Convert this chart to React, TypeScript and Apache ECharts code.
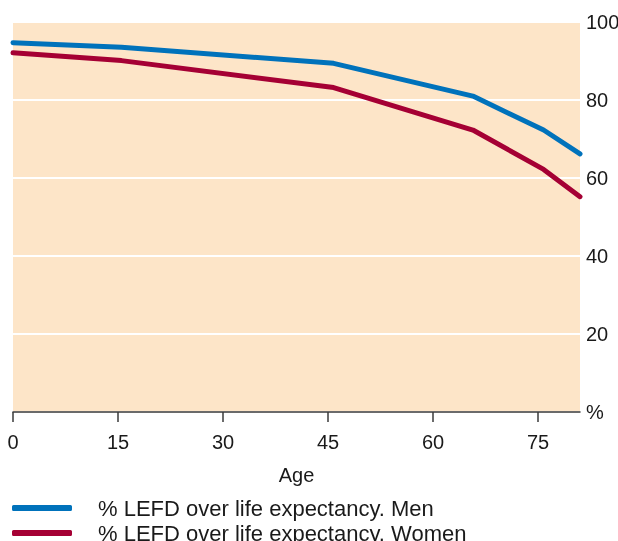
import React, { useEffect, useRef } from "react";
import * as echarts from "echarts";

const ages = [0, 15.5, 45.8, 65.7, 75.8, 81];
const menValues = [94.7, 93.5, 89.4, 81.0, 72.3, 66.2];
const womenValues = [92.1, 90.1, 83.2, 72.3, 62.2, 55.2];
const xTicks = [0, 15, 30, 45, 60, 75];
const yTicks = [0, 20, 40, 60, 80, 100];
const seriesNames = [
  "% LEFD over life expectancy. Men",
  "% LEFD over life expectancy. Women",
];

const FONT = "'Liberation Sans', Arial, sans-serif";
const TEXT = "#1a1a1a";

const legendBase = {
  orient: "horizontal",
  left: 12,
  padding: 0,
  itemWidth: 60,
  itemHeight: 6,
  icon: "roundRect",
  textStyle: {
    fontSize: 22,
    color: TEXT,
    lineHeight: 22,
    padding: [0, 0, 0, 21],
    fontFamily: FONT,
  },
};

export default function App() {
  const ref = useRef<HTMLDivElement>(null);
  useEffect(() => {
    if (!ref.current) return;
    const chart = echarts.init(ref.current, null, { renderer: "svg" });
    chart.setOption({
      animation: false,
      textStyle: { fontFamily: FONT },
      grid: {
        left: 13,
        right: 38,
        top: 22,
        bottom: 129,
        show: true,
        backgroundColor: "#fde5c8",
        borderWidth: 0,
        containLabel: false,
        outerBoundsMode: "none",
      },
      legend: [
        { ...legendBase, top: 497, data: [seriesNames[0]] },
        { ...legendBase, top: 522, data: [seriesNames[1]] },
      ],
      xAxis: {
        type: "value",
        min: 0,
        max: 81,
        interval: 15,
        name: "Age",
        nameLocation: "middle",
        nameGap: 53,
        nameTextStyle: { fontSize: 20, color: TEXT, fontFamily: FONT },
        axisLine: { show: true, lineStyle: { color: "#3a3a3a", width: 1.5 } },
        axisTick: {
          show: true,
          length: 10,
          lineStyle: { color: "#3a3a3a", width: 1.5 },
          customValues: xTicks,
        },
        axisLabel: {
          fontSize: 20,
          color: TEXT,
          margin: 20,
          customValues: xTicks,
          fontFamily: FONT,
        },
        splitLine: { show: false },
      },
      yAxis: {
        type: "value",
        position: "right",
        min: 0,
        max: 100,
        interval: 20,
        axisLine: { show: false },
        axisTick: { show: false },
        axisLabel: {
          fontSize: 20,
          color: TEXT,
          margin: 6,
          customValues: yTicks,
          formatter: (v: number) => (v === 0 ? "%" : String(v)),
          fontFamily: FONT,
        },
        splitLine: { show: true, lineStyle: { color: "#ffffff", width: 2 } },
      },
      series: [
        {
          name: seriesNames[0],
          type: "line",
          data: ages.map((a, i) => [a, menValues[i]]),
          symbol: "none",
          color: "#0072bb",
          lineStyle: { width: 5, color: "#0072bb", cap: "round", join: "round" },
        },
        {
          name: seriesNames[1],
          type: "line",
          data: ages.map((a, i) => [a, womenValues[i]]),
          symbol: "none",
          color: "#a50034",
          lineStyle: { width: 5, color: "#a50034", cap: "round", join: "round" },
        },
      ],
    });
    return () => chart.dispose();
  }, []);
  return (
    <div
      ref={ref}
      style={{ position: "fixed", left: 0, top: 0, width: 618, height: 541 }}
    />
  );
}
